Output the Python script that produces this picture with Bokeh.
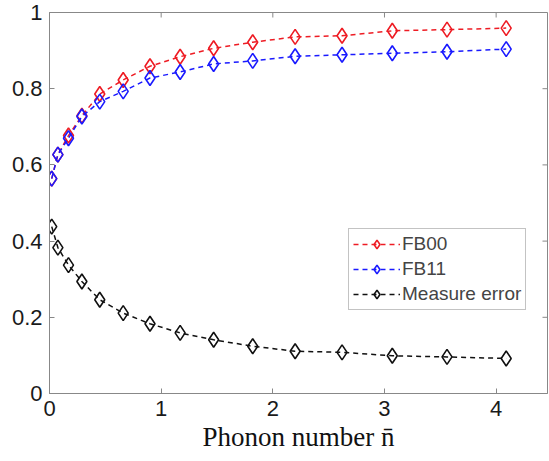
import math
from bokeh.plotting import figure
from bokeh.models import FixedTicker, Range1d, Legend, LegendItem
from bokeh.embed import file_html
from bokeh.resources import INLINE

n_bar = [0.02, 0.075, 0.17, 0.29, 0.45, 0.66, 0.9, 1.17, 1.47, 1.82, 2.2, 2.62, 3.07, 3.56, 4.09]
fb00 = [0.564, 0.627, 0.677, 0.729, 0.786, 0.823, 0.859, 0.884, 0.906, 0.922, 0.936, 0.939, 0.952, 0.955, 0.959]
fb11 = [0.564, 0.627, 0.670, 0.727, 0.766, 0.793, 0.828, 0.844, 0.865, 0.873, 0.885, 0.889, 0.893, 0.897, 0.904]
merr = [0.438, 0.383, 0.337, 0.294, 0.246, 0.211, 0.183, 0.159, 0.141, 0.124, 0.111, 0.108, 0.099, 0.096, 0.092]

x_ticks = [0, 1, 2, 3, 4]
y_ticks = [0, 0.2, 0.4, 0.6, 0.8, 1.0]
y_labels = {0: "0", 0.2: "0.2", 0.4: "0.4", 0.6: "0.6", 0.8: "0.8", 1.0: "1"}
X_MAX = 4.46
Y_MAX = 1.0

p = figure(width=549, height=461, output_backend="svg", toolbar_location=None,
           x_range=Range1d(0, X_MAX), y_range=Range1d(0, Y_MAX),
           min_border_left=49, min_border_right=2, min_border_top=12, min_border_bottom=68)
p.xgrid.visible = False
p.ygrid.visible = False
p.outline_line_color = "#888888"
p.outline_line_width = 1

FONT = "Liberation Sans"
AX = "#888888"

for ax in p.xaxis:
    ax.ticker = FixedTicker(ticks=x_ticks)
    ax.axis_label = "Phonon number n̄"
    ax.axis_label_text_font = "Liberation Serif"
    ax.axis_label_text_font_style = "normal"
    ax.axis_label_text_font_size = "27px"
    ax.axis_label_text_color = "#111111"
    ax.axis_label_standoff = 3
for ax in p.yaxis:
    ax.ticker = FixedTicker(ticks=y_ticks)
    ax.major_label_overrides = y_labels
for ax in p.xaxis + p.yaxis:
    ax.major_label_text_font = FONT
    ax.major_label_text_font_size = "22px"
    ax.major_label_text_color = "#1a1a1a"
    ax.axis_line_color = AX
    ax.major_tick_line_color = AX
    ax.major_tick_in = 5
    ax.major_tick_out = 0
    ax.minor_tick_line_color = None
    ax.major_label_standoff = 7

# mirrored ticks on top and right edges (MATLAB box style)
p.ray(x=x_ticks, y=[Y_MAX] * len(x_ticks), length=5, length_units="screen",
      angle=-math.pi / 2, line_color=AX, line_width=1)
p.ray(x=[X_MAX] * len(y_ticks), y=y_ticks, length=5, length_units="screen",
      angle=math.pi, line_color=AX, line_width=1)

series = [("FB00", fb00, "#ee1c24"), ("FB11", fb11, "#1a1aff"), ("Measure error", merr, "#111111")]
items = []
for name, ys, col in series:
    l = p.line(n_bar, ys, line_color=col, line_width=1.5, line_dash="5 4")
    s = p.scatter(n_bar, ys, marker="diamond", size=15, line_color=col, line_width=1.6,
                  fill_color=None)
    items.append(LegendItem(label=name, renderers=[l, s]))

legend = Legend(items=items, location=(299, 83), glyph_width=47, glyph_height=22,
                label_text_font=FONT, label_text_font_size="19px", label_height=22,
                spacing=3, padding=4, margin=0, label_standoff=2,
                border_line_color="#888888", background_fill_alpha=1)
p.add_layout(legend, "center")

open("out.html", "w").write(file_html(p, INLINE))
